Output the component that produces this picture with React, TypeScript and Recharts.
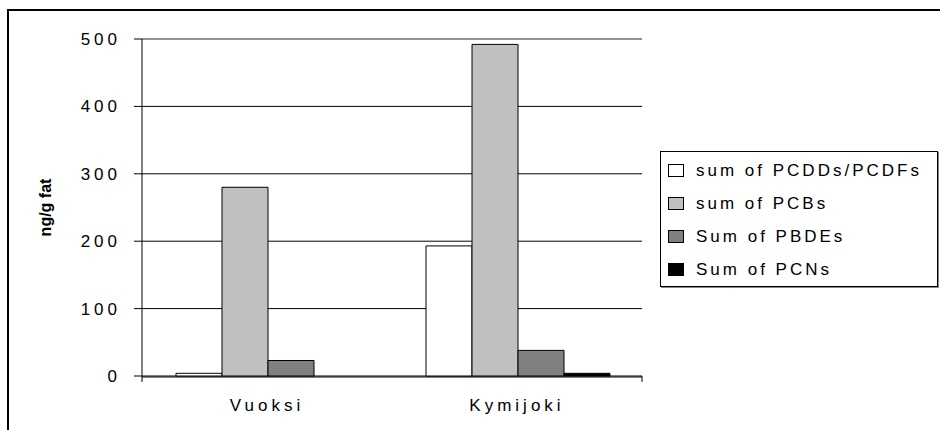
import React from 'react';
import { BarChart, Bar, XAxis, YAxis, CartesianGrid, ReferenceLine } from 'recharts';

const CATEGORIES = ['Vuoksi', 'Kymijoki'];
const PCDD_PCDF = [4, 193];
const PCB = [280, 492];
const PBDE = [23, 38];
const PCN = [0, 4];
const Y_TICKS = [0, 100, 200, 300, 400, 500];
// category boundaries, where the x axis carries its tick marks
const EDGE_TICKS = [0, 1, 2];

const SERIES = [
  { key: 'pcdd', name: 'sum of PCDDs/PCDFs', color: '#ffffff' },
  { key: 'pcb', name: 'sum of PCBs', color: '#c0c0c0' },
  { key: 'pbde', name: 'Sum of PBDEs', color: '#808080' },
  { key: 'pcn', name: 'Sum of PCNs', color: '#000000' },
];

const data = CATEGORIES.map((name, i) => ({
  name,
  pcdd: PCDD_PCDF[i],
  pcb: PCB[i],
  pbde: PBDE[i],
  pcn: PCN[i],
}));

const FONT = '"Liberation Sans", Arial, sans-serif';

const LegendBox = () => (
  <div style={{
    position: 'absolute', left: 660, top: 151,
    width: 278, height: 136, boxSizing: 'border-box', border: '1px solid #000',
    boxShadow: '1px 1px 0 #888', background: '#fff', padding: '2px 0',
    fontFamily: FONT, fontSize: 17, letterSpacing: 3, color: '#000',
  }}>
    {SERIES.map(s => (
      <div key={s.key} style={{ height: 33, display: 'flex', alignItems: 'center' }}>
        <span style={{
          display: 'inline-block', width: 14, height: 11, marginLeft: 7, marginRight: 12,
          background: s.color, border: '1px solid #000',
        }} />
        <span>{s.name}</span>
      </div>
    ))}
  </div>
);

const YLabel = (props: any) => {
  const { viewBox } = props;
  const cx = 45;
  const cy = viewBox.y + viewBox.height / 2;
  return (
    <text x={cx} y={cy} transform={`rotate(-90 ${cx} ${cy})`} textAnchor="middle"
      dominantBaseline="central" fontFamily={FONT} fontSize={16} fontWeight="bold" fill="#000">
      ng/g fat
    </text>
  );
};

const NoLabel = () => <g />;

export default function App() {
  return (
    <div style={{ position: 'absolute', left: 0, top: 0, width: 940, height: 430, background: '#fff', overflow: 'hidden' }}>
      <div style={{ position: 'absolute', left: 7, top: 9, width: 960, height: 460, borderTop: '2px solid #000', borderLeft: '2px solid #000' }} />
      <div style={{ position: 'absolute', left: 0, top: 0 }}>
        <BarChart width={940} height={430} data={data}
          margin={{ top: 39, right: 298, bottom: 0, left: 0 }}
          barCategoryGap={34} barGap={0}>
          <CartesianGrid xAxisId={1} vertical={false} stroke="#000" strokeWidth={1} />
          <XAxis xAxisId={0} type="number" domain={[0, 2]} ticks={EDGE_TICKS} height={1} interval={0}
            tick={NoLabel} tickSize={6} tickLine={{ stroke: '#000' }} axisLine={false} />
          <XAxis xAxisId={1} dataKey="name" height={53} tickLine={false} tickSize={6} tickMargin={16}
            axisLine={{ stroke: '#000' }}
            tick={{ fontFamily: FONT, fontSize: 17, letterSpacing: 4, fill: '#000' }} />
          <YAxis domain={[0, 500]} ticks={Y_TICKS} width={142} tickSize={8} tickMargin={13}
            axisLine={{ stroke: '#000' }} tickLine={{ stroke: '#000' }}
            tick={{ fontFamily: FONT, fontSize: 17, letterSpacing: 4, fill: '#000' }}
            label={<YLabel />} />
          <YAxis yAxisId="frame" orientation="right" domain={[0, 500]} width={0} tick={false}
            tickLine={false} axisLine={{ stroke: '#999', strokeWidth: 1.5 }} />
          <ReferenceLine xAxisId={1} y={500} stroke="#999" strokeWidth={1.5} />
          {SERIES.map(s => (
            <Bar key={s.key} xAxisId={1} dataKey={s.key} name={s.name} fill={s.color}
              stroke="#000" strokeWidth={1} isAnimationActive={false} />
          ))}
        </BarChart>
      </div>
      <LegendBox />
    </div>
  );
}
